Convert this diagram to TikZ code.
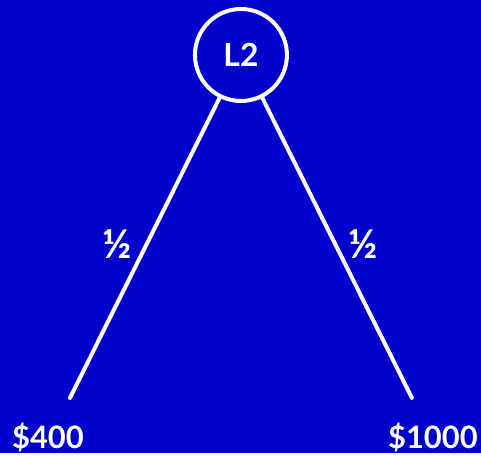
\documentclass[tikz,border=0pt]{standalone}
\usepackage{fontspec}
\setmainfont{Lato}
\usetikzlibrary{positioning}
\definecolor{slideblue}{HTML}{0000CC}

\begin{document}
\begin{tikzpicture}[x=1bp, y=-1bp, white, line width=4bp,
    chance/.style={draw, circle, minimum size=92bp, inner sep=0pt, font=\fontsize{32}{34}\selectfont\bfseries},
    payoff/.style={font=\fontsize{31}{33}\selectfont\bfseries},
    prob/.style={font=\fontsize{40}{42}\selectfont\bfseries, inner sep=0pt}]
        % background
        \fill[slideblue] (0,0) rectangle (481,453);

        % lottery node
        \node[chance] (lot) at (241,55) {L2};

        % outcomes
        \coordinate (lowend) at (70,398);
        \coordinate (highend) at (412,398);
        \node[payoff] (low) at (48,438) {\$400};
        \node[payoff] (high) at (433,438) {\$1000};

        % branches
        \draw[line cap=round] (lot) -- (lowend);
        \draw[line cap=round] (lot) -- (highend);
        \node[prob] (plow) at (117,244) {½};
        \node[prob] (phigh) at (363,244) {½};
    \end{tikzpicture}
\end{document}
